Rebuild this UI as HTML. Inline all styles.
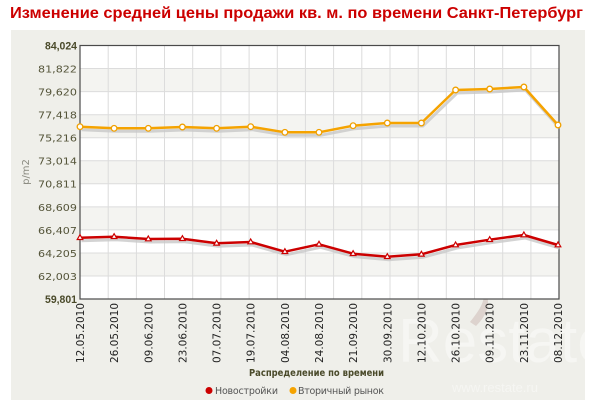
<!DOCTYPE html>
<html><head><meta charset="utf-8"><style>
html,body{margin:0;padding:0;background:#fff;}
svg{display:block;}
</style></head><body>
<svg width="600" height="400" viewBox="0 0 600 400" xmlns="http://www.w3.org/2000/svg">
<rect x="0" y="0" width="600" height="400" fill="#ffffff"/>
<text x="10" y="18" font-family="Liberation Sans, Arial, sans-serif" font-weight="bold" font-size="16" fill="#cc0000" textLength="573" lengthAdjust="spacingAndGlyphs">Изменение средней цены продажи кв. м. по времени Санкт-Петербург</text>
<rect x="11" y="30" width="574" height="370" fill="#efefea"/>
<!-- watermark -->
<g opacity="0.55">
<path d="M470 322 C488 300 488 290 472 282 C490 288 495 308 476 326 Z" fill="#b89a94" opacity="0.6"/>
<text x="398" y="362" font-family="Liberation Sans, Arial, sans-serif" font-size="62" fill="#ffffff" opacity="0.7">Restate</text>
<text x="452" y="392" font-family="Liberation Sans, Arial, sans-serif" font-size="13" fill="#ffffff" opacity="0.7">www.restate.ru</text>
</g>
<!-- plot -->
<rect x="80" y="45.5" width="479" height="253.5" fill="#ffffff"/>
<g fill="#f4f4f1">
<rect x="80" y="68.5" width="479" height="23"/>
<rect x="80" y="114.7" width="479" height="23"/>
<rect x="80" y="160.8" width="479" height="23"/>
<rect x="80" y="206.9" width="479" height="23"/>
<rect x="80" y="253" width="479" height="23"/>
</g>
<g stroke="#dcdcdc" stroke-width="1">
<line x1="80" x2="559" y1="68.5" y2="68.5"/>
<line x1="80" x2="559" y1="91.6" y2="91.6"/>
<line x1="80" x2="559" y1="114.7" y2="114.7"/>
<line x1="80" x2="559" y1="137.7" y2="137.7"/>
<line x1="80" x2="559" y1="160.8" y2="160.8"/>
<line x1="80" x2="559" y1="183.8" y2="183.8"/>
<line x1="80" x2="559" y1="206.9" y2="206.9"/>
<line x1="80" x2="559" y1="229.9" y2="229.9"/>
<line x1="80" x2="559" y1="253" y2="253"/>
<line x1="80" x2="559" y1="276" y2="276"/>
<line x1="108.2" x2="108.2" y1="45.5" y2="299"/>
<line x1="136.4" x2="136.4" y1="45.5" y2="299"/>
<line x1="164.5" x2="164.5" y1="45.5" y2="299"/>
<line x1="192.7" x2="192.7" y1="45.5" y2="299"/>
<line x1="220.9" x2="220.9" y1="45.5" y2="299"/>
<line x1="249.1" x2="249.1" y1="45.5" y2="299"/>
<line x1="277.3" x2="277.3" y1="45.5" y2="299"/>
<line x1="305.4" x2="305.4" y1="45.5" y2="299"/>
<line x1="333.6" x2="333.6" y1="45.5" y2="299"/>
<line x1="361.8" x2="361.8" y1="45.5" y2="299"/>
<line x1="390" x2="390" y1="45.5" y2="299"/>
<line x1="418.2" x2="418.2" y1="45.5" y2="299"/>
<line x1="446.3" x2="446.3" y1="45.5" y2="299"/>
<line x1="474.5" x2="474.5" y1="45.5" y2="299"/>
<line x1="502.7" x2="502.7" y1="45.5" y2="299"/>
<line x1="530.9" x2="530.9" y1="45.5" y2="299"/>
</g>
<rect x="80" y="45.5" width="479" height="253.5" fill="none" stroke="#4a4a4a" stroke-width="1.2"/>
<!-- shadows -->
<polyline fill="none" stroke="#c8c8c8" stroke-width="3" opacity="0.8" transform="translate(1.5,3)" points="80,126.7 114.1,128.3 148.3,128.3 182.4,127 216.6,128.3 250.7,126.7 284.9,132.3 319,132.3 353.1,125.7 387.3,123 421.4,123 455.6,90 489.7,89 523.9,87 558,125"/>
<polyline fill="none" stroke="#c8c8c8" stroke-width="3" opacity="0.8" transform="translate(1.5,3)" points="80,237.7 114.1,236.7 148.3,239 182.4,238.7 216.6,243.3 250.7,242 284.9,251.7 319,244.3 353.1,253.7 387.3,256.7 421.4,254.3 455.6,245 489.7,239.7 523.9,235 558,245"/>
<!-- orange -->
<polyline fill="none" stroke="#f5a300" stroke-width="2.5" stroke-linejoin="round" points="80,126.7 114.1,128.3 148.3,128.3 182.4,127 216.6,128.3 250.7,126.7 284.9,132.3 319,132.3 353.1,125.7 387.3,123 421.4,123 455.6,90 489.7,89 523.9,87 558,125"/>
<g fill="#ffffff" stroke="#f0a000" stroke-width="1.3">
<circle cx="80" cy="126.7" r="2.8"/><circle cx="114.1" cy="128.3" r="2.8"/><circle cx="148.3" cy="128.3" r="2.8"/><circle cx="182.4" cy="127" r="2.8"/><circle cx="216.6" cy="128.3" r="2.8"/><circle cx="250.7" cy="126.7" r="2.8"/><circle cx="284.9" cy="132.3" r="2.8"/><circle cx="319" cy="132.3" r="2.8"/><circle cx="353.1" cy="125.7" r="2.8"/><circle cx="387.3" cy="123" r="2.8"/><circle cx="421.4" cy="123" r="2.8"/><circle cx="455.6" cy="90" r="2.8"/><circle cx="489.7" cy="89" r="2.8"/><circle cx="523.9" cy="87" r="2.8"/><circle cx="558" cy="125" r="2.8"/>
</g>
<!-- red -->
<polyline fill="none" stroke="#cc0000" stroke-width="2.5" stroke-linejoin="round" points="80,237.7 114.1,236.7 148.3,239 182.4,238.7 216.6,243.3 250.7,242 284.9,251.7 319,244.3 353.1,253.7 387.3,256.7 421.4,254.3 455.6,245 489.7,239.7 523.9,235 558,245"/>
<g fill="#ffffff" stroke="#cc0000" stroke-width="1.2">
<path d="M80,234.7 l2.8,4.8 h-5.6 z"/><path d="M114.1,233.7 l2.8,4.8 h-5.6 z"/><path d="M148.3,236 l2.8,4.8 h-5.6 z"/><path d="M182.4,235.7 l2.8,4.8 h-5.6 z"/><path d="M216.6,240.3 l2.8,4.8 h-5.6 z"/><path d="M250.7,239 l2.8,4.8 h-5.6 z"/><path d="M284.9,248.7 l2.8,4.8 h-5.6 z"/><path d="M319,241.3 l2.8,4.8 h-5.6 z"/><path d="M353.1,250.7 l2.8,4.8 h-5.6 z"/><path d="M387.3,253.7 l2.8,4.8 h-5.6 z"/><path d="M421.4,251.3 l2.8,4.8 h-5.6 z"/><path d="M455.6,242 l2.8,4.8 h-5.6 z"/><path d="M489.7,236.7 l2.8,4.8 h-5.6 z"/><path d="M523.9,232 l2.8,4.8 h-5.6 z"/><path d="M558,242 l2.8,4.8 h-5.6 z"/>
</g>
<!-- y labels -->
<g font-family="DejaVu Sans, Verdana, sans-serif" font-size="10" fill="#55553a" text-anchor="end">
<text x="77" y="49.5" font-family="Liberation Sans, Arial, sans-serif" font-weight="bold" font-size="11" fill="#4a4a2a" textLength="32" lengthAdjust="spacingAndGlyphs">84,024</text>
<text x="77" y="72.5" textLength="39" lengthAdjust="spacingAndGlyphs">81,822</text>
<text x="77" y="95.5" textLength="39" lengthAdjust="spacingAndGlyphs">79,620</text>
<text x="77" y="118.6" textLength="39" lengthAdjust="spacingAndGlyphs">77,418</text>
<text x="77" y="141.6" textLength="39" lengthAdjust="spacingAndGlyphs">75,216</text>
<text x="77" y="164.7" textLength="39" lengthAdjust="spacingAndGlyphs">73,014</text>
<text x="77" y="187.7" textLength="39" lengthAdjust="spacingAndGlyphs">70,811</text>
<text x="77" y="210.8" textLength="39" lengthAdjust="spacingAndGlyphs">68,609</text>
<text x="77" y="233.8" textLength="39" lengthAdjust="spacingAndGlyphs">66,407</text>
<text x="77" y="256.9" textLength="39" lengthAdjust="spacingAndGlyphs">64,205</text>
<text x="77" y="279.9" textLength="39" lengthAdjust="spacingAndGlyphs">62,003</text>
<text x="77" y="303" font-family="Liberation Sans, Arial, sans-serif" font-weight="bold" font-size="11" fill="#4a4a2a" textLength="32" lengthAdjust="spacingAndGlyphs">59,801</text>
</g>
<text transform="translate(29,172) rotate(-90)" text-anchor="middle" font-family="DejaVu Sans, Verdana, sans-serif" font-size="10" fill="#8a8a80">р/m2</text>
<!-- x labels -->
<g font-family="DejaVu Sans, Verdana, sans-serif" font-size="11" fill="#222222" text-anchor="end">
<text transform="translate(84,303) rotate(-90)" textLength="60" lengthAdjust="spacingAndGlyphs">12.05.2010</text>
<text transform="translate(118.1,303) rotate(-90)" textLength="60" lengthAdjust="spacingAndGlyphs">26.05.2010</text>
<text transform="translate(152.3,303) rotate(-90)" textLength="60" lengthAdjust="spacingAndGlyphs">09.06.2010</text>
<text transform="translate(186.4,303) rotate(-90)" textLength="60" lengthAdjust="spacingAndGlyphs">23.06.2010</text>
<text transform="translate(220.6,303) rotate(-90)" textLength="60" lengthAdjust="spacingAndGlyphs">07.07.2010</text>
<text transform="translate(254.7,303) rotate(-90)" textLength="60" lengthAdjust="spacingAndGlyphs">19.07.2010</text>
<text transform="translate(288.9,303) rotate(-90)" textLength="60" lengthAdjust="spacingAndGlyphs">04.08.2010</text>
<text transform="translate(323,303) rotate(-90)" textLength="60" lengthAdjust="spacingAndGlyphs">24.08.2010</text>
<text transform="translate(357.1,303) rotate(-90)" textLength="60" lengthAdjust="spacingAndGlyphs">21.09.2010</text>
<text transform="translate(391.3,303) rotate(-90)" textLength="60" lengthAdjust="spacingAndGlyphs">30.09.2010</text>
<text transform="translate(425.4,303) rotate(-90)" textLength="60" lengthAdjust="spacingAndGlyphs">12.10.2010</text>
<text transform="translate(459.6,303) rotate(-90)" textLength="60" lengthAdjust="spacingAndGlyphs">26.10.2010</text>
<text transform="translate(493.7,303) rotate(-90)" textLength="60" lengthAdjust="spacingAndGlyphs">09.11.2010</text>
<text transform="translate(527.9,303) rotate(-90)" textLength="60" lengthAdjust="spacingAndGlyphs">23.11.2010</text>
<text transform="translate(562,303) rotate(-90)" textLength="60" lengthAdjust="spacingAndGlyphs">08.12.2010</text>
</g>
<text x="249" y="376" font-family="DejaVu Sans, Verdana, sans-serif" font-weight="bold" font-size="10" fill="#4a4a2a" textLength="135" lengthAdjust="spacingAndGlyphs">Распределение по времени</text>
<!-- legend -->
<circle cx="209" cy="390.5" r="3.5" fill="#cc0000"/>
<text x="215" y="394" font-family="DejaVu Sans, Verdana, sans-serif" font-size="9.5" fill="#555555" textLength="63" lengthAdjust="spacing">Новостройки</text>
<circle cx="293" cy="390.5" r="3.5" fill="#f5a300"/>
<text x="298" y="394" font-family="DejaVu Sans, Verdana, sans-serif" font-size="9.5" fill="#555555" textLength="86" lengthAdjust="spacing">Вторичный рынок</text>
</svg>
</body></html>
